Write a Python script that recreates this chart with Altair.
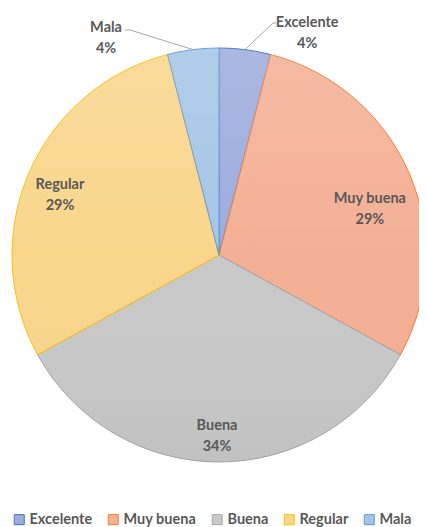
import altair as alt
import pandas as pd
import math

categories = ["Excelente", "Muy buena", "Buena", "Regular", "Mala"]
percents = [4, 29, 34, 29, 4]
fill_colors = ["#9dacdd", "#f4b095", "#c9c9c9", "#f9d68c", "#a6c5e6"]
stroke_colors = ["#4472c4", "#ed7d31", "#a5a5a5", "#ffc000", "#5b9bd5"]

CX, CY, R = 211, 247, 207
FONT = "Lato"
FS = 14.5
TXT = "#595959"

df = pd.DataFrame({"cat": categories, "pct": percents})
df["end"] = df["pct"].cumsum()
df["start"] = df["end"] - df["pct"]
df["mid"] = df["start"] + df["pct"] / 2
df["label"] = df["cat"] + "\n" + df["pct"].astype(str) + "%"

theta_scale = alt.Scale(domain=[0, 100], range=[0, 2 * math.pi])
cx = alt.value(CX)
cy = alt.value(CY)

base = alt.Chart(df)

legend_kw = dict(title=None, orient="none", direction="horizontal",
                 legendX=4, legendY=504, symbolType="square",
                 symbolSize=100, symbolStrokeWidth=1,
                 labelFont=FONT, labelFontSize=FS,
                 labelFontWeight="bold", labelColor=TXT,
                 columnPadding=13, labelOffset=3)

pie = base.mark_arc(radius=R, strokeWidth=1).encode(
    x=cx, y=cy,
    theta=alt.Theta("start:Q", scale=theta_scale, stack=None),
    theta2="end:Q",
    fill=alt.Fill("cat:N", scale=alt.Scale(domain=categories, range=fill_colors),
                  sort=categories, legend=alt.Legend(**legend_kw)),
    stroke=alt.Stroke("cat:N", scale=alt.Scale(domain=categories, range=stroke_colors),
                      sort=categories, legend=alt.Legend(**legend_kw)),
)

shade = alt.Chart(pd.DataFrame({"k": [0]})).mark_arc(
    radius=R, theta=0, theta2=2 * math.pi,
    fill=alt.LinearGradient(
        gradient="linear", x1=0, y1=0, x2=0, y2=1,
        stops=[alt.GradientStop(color="rgba(255,255,255,0.14)", offset=0),
               alt.GradientStop(color="rgba(255,255,255,0.0)", offset=0.5),
               alt.GradientStop(color="rgba(0,0,0,0.04)", offset=1)]),
).encode(x=cx, y=cy)

# label placement styles: radius and offsets per label
label_styles = {
    "Excelente": dict(r=241, dx=58, dy=7),
    "Muy buena": dict(r=160, dx=4, dy=8),
    "Buena": dict(r=180, dx=-2, dy=-9),
    "Regular": dict(r=170, dx=-3, dy=-2),
    "Mala": dict(r=247, dx=-82, dy=18),
}

layers = [pie, shade]
for cat, st in label_styles.items():
    layers.append(
        base.transform_filter(alt.datum.cat == cat).mark_text(
            font=FONT, fontSize=FS, fontWeight="bold", color=TXT,
            lineBreak="\n", lineHeight=21, align="center", baseline="middle",
            dx=st["dx"], dy=st["dy"],
        ).encode(
            x=cx, y=cy,
            theta=alt.Theta("mid:Q", scale=theta_scale, stack=None),
            radius=alt.value(st["r"]),
            text="label:N",
        )
    )

# leader lines for outside labels: knee and end points
leaders = {
    "Excelente": dict(kx=265, ky=15, ex=268),
    "Mala": dict(kx=122, ky=22, ex=117),
}
for cat, ld in leaders.items():
    seg = base.transform_filter(alt.datum.cat == cat).transform_calculate(
        sx=f"{CX} + {R} * sin(datum.mid / 100 * 2 * PI)",
        sy=f"{CY} - {R} * cos(datum.mid / 100 * 2 * PI)",
    )
    layers.append(seg.mark_rule(color="#a6a6a6", strokeWidth=1).encode(
        x=alt.X("sx:Q", scale=None), y=alt.Y("sy:Q", scale=None),
        x2=alt.value(ld["kx"]), y2=alt.value(ld["ky"])))
    layers.append(seg.mark_rule(color="#a6a6a6", strokeWidth=1).encode(
        x=alt.value(ld["kx"]), y=alt.value(ld["ky"]),
        x2=alt.value(ld["ex"]), y2=alt.value(ld["ky"])))

chart = alt.layer(*layers).properties(
    width=411, height=519, padding=0, autosize="none"
).configure(background="white").configure_view(stroke=None)

chart.save("out.html", embed_options={"renderer": "svg", "actions": False})
